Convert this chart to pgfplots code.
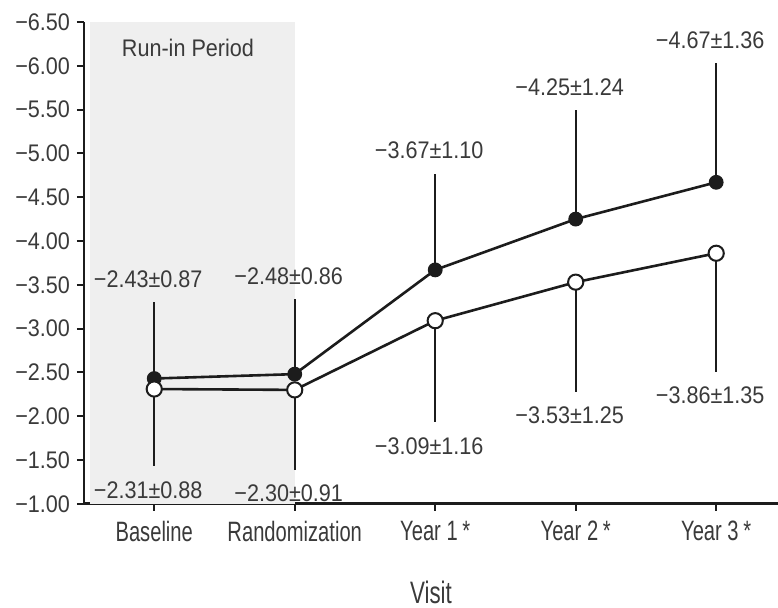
\documentclass[border=0pt]{standalone}
\usepackage{fontspec}
\setmainfont[FakeStretch=0.9]{Liberation Sans}
\newfontfamily\condensed[FakeStretch=0.72]{Liberation Sans}
\usepackage{pgfplots}
\pgfplotsset{compat=1.18}
\usepackage{pgfplotstable}

\definecolor{txt}{HTML}{3A3A3A}
\definecolor{ink}{HTML}{1C1C1C}
\definecolor{runin}{HTML}{EFEFEF}

\newcommand\lbl{\fontsize{12}{14}\selectfont}

% mean change per visit: filled group (f, fe) and open group (o, oe)
\pgfplotstableread{
x  f      fe    o      oe
0  -2.43  0.87  -2.31  0.88
1  -2.48  0.86  -2.30  0.91
2  -3.67  1.10  -3.09  1.16
3  -4.25  1.24  -3.53  1.25
4  -4.67  1.36  -3.86  1.35
}\visits

\begin{document}
\begin{tikzpicture}
\begin{axis}[
  x=70.25pt, y=43.8pt,
  y dir=reverse,
  xmin=-0.5, xmax=4.44, ymin=-6.5, ymax=-1.0,
  axis x line*=bottom, axis y line*=left,
  axis line style={ink, line width=1.3pt},
  tick style={ink, line width=1pt},
  tick align=outside, major tick length=3.5pt,
  xtick={0,1,2,3,4},
  xticklabels={Baseline,Randomization,Year 1\,*,Year 2\,*,Year 3\,*},
  xticklabel style={txt, font=\condensed\fontsize{14}{16}\selectfont, yshift=-1.5pt},
  ytick={-6.5,-6,-5.5,-5,-4.5,-4,-3.5,-3,-2.5,-2,-1.5,-1},
  yticklabels={−6.50,−6.00,−5.50,−5.00,−4.50,−4.00,−3.50,−3.00,−2.50,−2.00,−1.50,−1.00},
  yticklabel style={txt, font=\lbl},
  xlabel={Visit},
  xlabel style={txt, font=\condensed\fontsize{15.5}{18}\selectfont, yshift=-13pt},
  clip=false,
]
% run-in period shading
\fill[runin] (axis cs:-0.46,-6.5) rectangle (axis cs:1.0,-1.0);
\node[txt, font=\lbl] at (axis cs:0.24,-6.2) {Run-in Period};

\addplot[ink, line width=1.3pt, mark=*, mark size=3.4pt,
  mark options={fill=ink, draw=ink, line width=0.6pt},
  error bars/.cd, y dir=minus, y explicit,
  error bar style={ink, line width=1.2pt}, error mark=none]
  table[x=x, y=f, y error=fe] {\visits};

\addplot[ink, line width=1.3pt, mark=*, mark size=3.8pt,
  mark options={fill=white, draw=ink, line width=1pt},
  error bars/.cd, y dir=plus, y explicit,
  error bar style={ink, line width=1.2pt}, error mark=none]
  table[x=x, y=o, y error=oe] {\visits};

% value labels at the ends of the bars
\begin{scope}[every node/.style={txt, font=\lbl, xshift=-3pt}]
\node[yshift=11.5pt] at (axis cs:0,-3.30) {−2.43±0.87};
\node[yshift=11.5pt] at (axis cs:1,-3.34) {−2.48±0.86};
\node[yshift=11.5pt] at (axis cs:2,-4.77) {−3.67±1.10};
\node[yshift=11.5pt] at (axis cs:3,-5.49) {−4.25±1.24};
\node[yshift=11.5pt] at (axis cs:4,-6.03) {−4.67±1.36};
\node[yshift=-12pt] at (axis cs:0,-1.43) {−2.31±0.88};
\node[yshift=-12pt] at (axis cs:1,-1.39) {−2.30±0.91};
\node[yshift=-12pt] at (axis cs:2,-1.93) {−3.09±1.16};
\node[yshift=-12pt] at (axis cs:3,-2.28) {−3.53±1.25};
\node[yshift=-12pt] at (axis cs:4,-2.51) {−3.86±1.35};
\end{scope}

\coordinate (bl) at (axis cs:-0.5,-1.0);
\coordinate (tr) at (axis cs:4.44,-6.5);
\end{axis}
\pgfresetboundingbox
\path ([shift={(-42pt,-52pt)}]bl) rectangle ([shift={(0pt,11pt)}]tr);
\end{tikzpicture}
\end{document}
